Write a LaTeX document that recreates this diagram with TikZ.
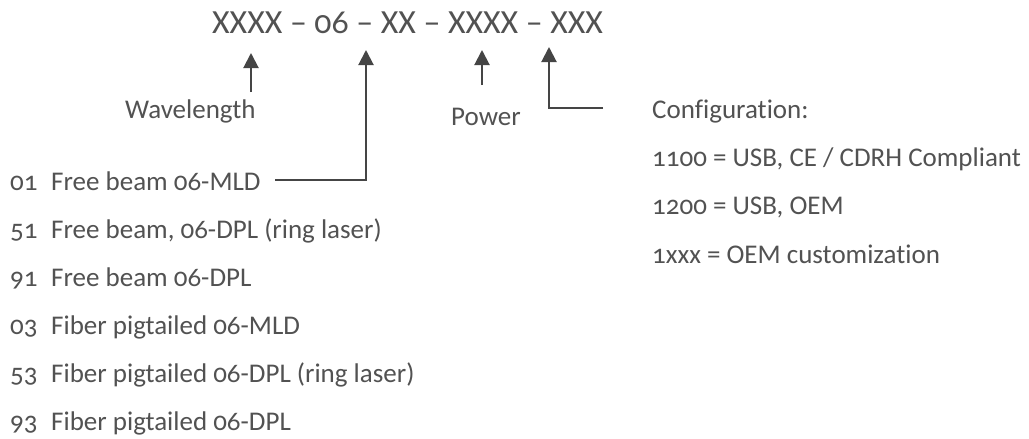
\documentclass[tikz,border=0pt]{standalone}
\usepackage{fontspec}
\setmainfont[Numbers=OldStyle,RawFeature={-liga,-clig,-calt}]{Carlito}
\usetikzlibrary{arrows.meta}
\definecolor{txt}{HTML}{525252}
\definecolor{ln}{HTML}{454545}
\tikzset{
  lbl/.style={anchor=base west, inner sep=0pt, text=txt, font=\fontsize{27}{32}\selectfont},
  ttl/.style={anchor=base west, inner sep=0pt, text=txt, font=\fontsize{33.8}{40}\selectfont},
  arr/.style={draw=ln, line width=2pt, -{Triangle[width=15pt,length=15pt]}}
}
\begin{document}
\begin{tikzpicture}[x=1pt,y=-1pt]
\useasboundingbox[fill=white] (0,0) rectangle (1029,439);
% title
\node[ttl] (title) at (212,34) {XXXX – 06 – XX – XXXX – XXX};
% labels
\node[lbl] (wl) at (125,118) {Wavelength};
\node[lbl] (pw) at (451,125) {Power};
% list
\node[lbl] (n1) at (10,190) {01};
\node[lbl] (d1) at (51,190) {Free beam 06-MLD};
\node[lbl] (n2) at (10,238) {51};
\node[lbl] (d2) at (51,238) {Free beam, 06-DPL (ring laser)};
\node[lbl] (n3) at (10,286) {91};
\node[lbl] (d3) at (51,286) {Free beam 06-DPL};
\node[lbl] (n4) at (10,334) {03};
\node[lbl] (d4) at (51,334) {Fiber pigtailed 06-MLD};
\node[lbl] (n5) at (10,382) {53};
\node[lbl] (d5) at (51,382) {Fiber pigtailed 06-DPL (ring laser)};
\node[lbl] (n6) at (10,430) {93};
\node[lbl] (d6) at (51,430) {Fiber pigtailed 06-DPL};
% configuration
\node[lbl] (cfg) at (652,118) {Configuration:};
\node[lbl] (c1) at (652,166) {1100 = USB, CE / CDRH Compliant};
\node[lbl] (c2) at (652,214) {1200 = USB, OEM};
\node[lbl] (c3) at (652,263) {1xxx = OEM customization};
% arrow ends
\coordinate (t1) at (251,53);
\coordinate (b1) at (251,92);
\coordinate (t2) at (366,50);
\coordinate (b2) at (275,180);
\coordinate (t3) at (482,50);
\coordinate (b3) at (482,85);
\coordinate (t4) at (549,47);
\coordinate (b4) at (603,108);
\draw[arr] (b1) -- (t1);
\draw[arr] (b2) -| (t2);
\draw[arr] (b3) -- (t3);
\draw[arr] (b4) -| (t4);
\end{tikzpicture}
\end{document}
